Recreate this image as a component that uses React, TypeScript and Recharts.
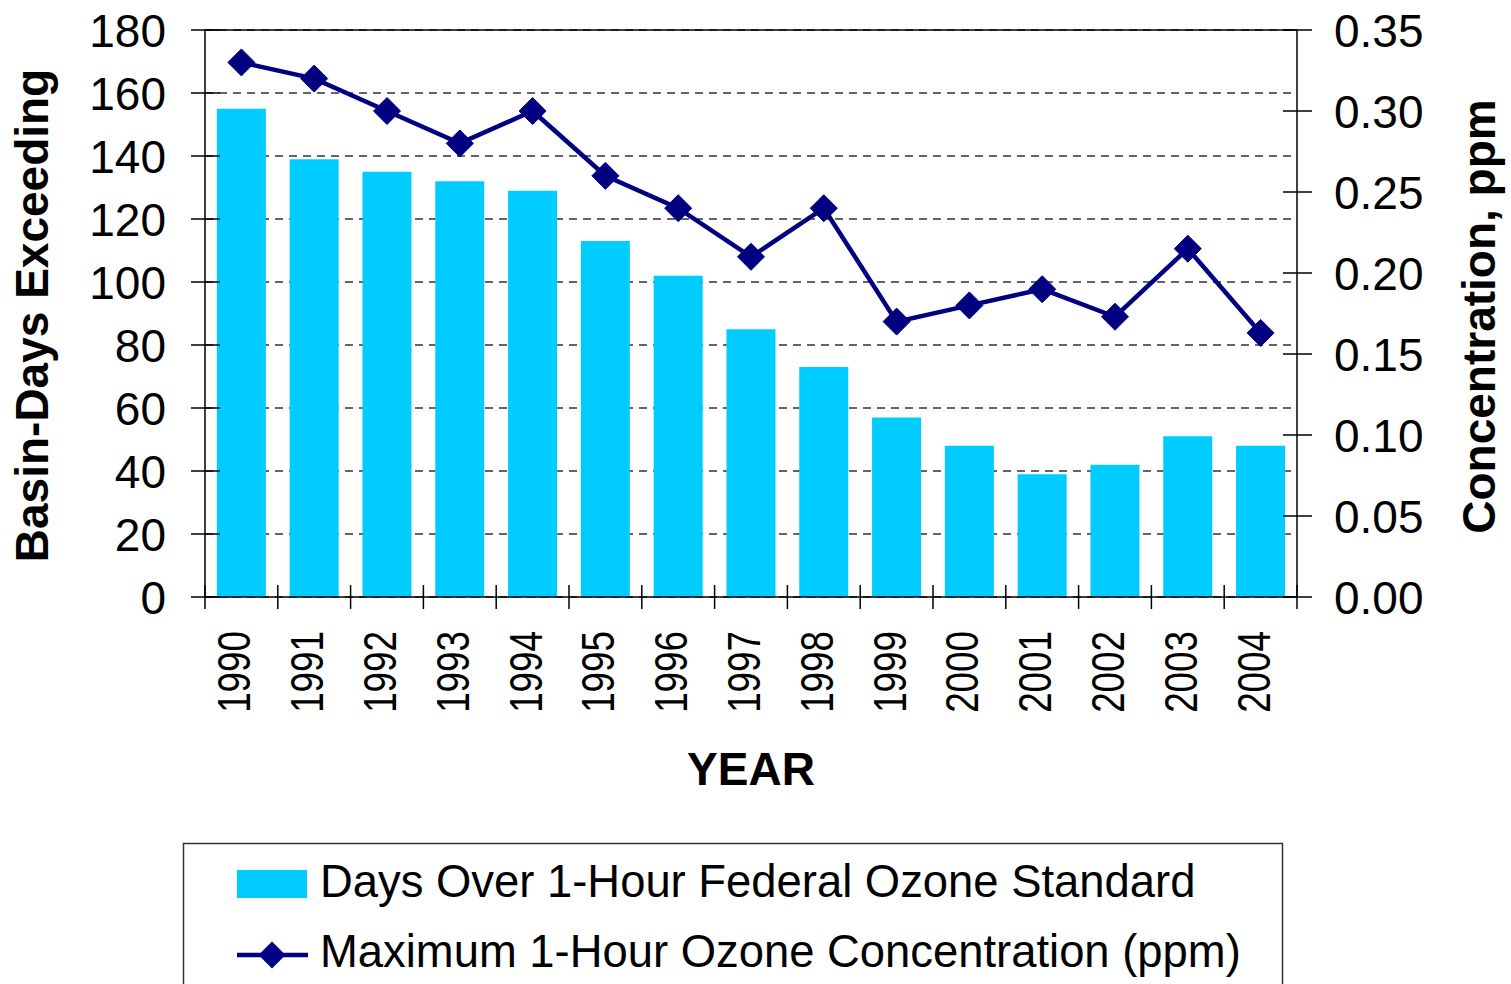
import React from "react";
import {
  ComposedChart,
  Bar,
  Line,
  XAxis,
  YAxis,
  CartesianGrid,
  ReferenceLine,
  Label,
} from "recharts";

const years = ["1990","1991","1992","1993","1994","1995","1996","1997","1998","1999","2000","2001","2002","2003","2004"];
const daysOver = [155, 139, 135, 132, 129, 113, 102, 85, 73, 57, 48, 39, 42, 51, 48];
const maxConc = [0.33, 0.32, 0.30, 0.28, 0.30, 0.26, 0.24, 0.21, 0.24, 0.17, 0.18, 0.19, 0.173, 0.215, 0.163];
const leftTicks = [0, 20, 40, 60, 80, 100, 120, 140, 160, 180];
const rightTicks = [0, 0.05, 0.1, 0.15, 0.2, 0.25, 0.3, 0.35];

const barName = "Days Over 1-Hour Federal Ozone Standard";
const lineName = "Maximum 1-Hour Ozone Concentration (ppm)";

const data = years.map((y, i) => ({ year: y, days: daysOver[i], conc: maxConc[i] }));

const FONT = "'Liberation Sans', Arial, sans-serif";
const BAR = "#00CCFF";
const NAVY = "#000080";

const LeftTick = (props: any) => {
  const { x, y, payload } = props;
  return (
    <g>
      <line x1={x - 14} x2={x + 15} y1={y} y2={y} stroke="#000" strokeWidth={1.5} />
      <text x={x - 39} y={y} dy="0.36em" textAnchor="end" fontSize={46} fontFamily={FONT} fill="#000">
        {payload.value}
      </text>
    </g>
  );
};

const RightTick = (props: any) => {
  const { x, y, payload } = props;
  return (
    <g>
      <line x1={x - 14} x2={x + 15} y1={y} y2={y} stroke="#000" strokeWidth={1.5} />
      <text x={x + 37} y={y} dy="0.36em" textAnchor="start" fontSize={46} fontFamily={FONT} fill="#000">
        {Number(payload.value).toFixed(2)}
      </text>
    </g>
  );
};

const YearTick = (props: any) => {
  const { x, y, payload, index, width, visibleTicksCount } = props;
  const band = width / visibleTicksCount;
  const isLast = index === visibleTicksCount - 1;
  return (
    <g>
      <line x1={x - band / 2} x2={x - band / 2} y1={y - 12} y2={y + 12} stroke="#000" strokeWidth={1.5} />
      {isLast && (
        <line x1={x + band / 2} x2={x + band / 2} y1={y - 12} y2={y + 12} stroke="#000" strokeWidth={1.5} />
      )}
      <text
        transform={`translate(${x + 9}, ${y + 34}) rotate(-90) scale(0.8, 1)`}
        textAnchor="end"
        fontSize={46}
        fontFamily={FONT}
        fill="#000"
      >
        {payload.value}
      </text>
    </g>
  );
};

const Diamond = (props: any) => {
  const { cx, cy } = props;
  if (cx == null || cy == null) return null;
  const r = 13.5;
  return (
    <polygon
      points={`${cx},${cy - r} ${cx + r},${cy} ${cx},${cy + r} ${cx - r},${cy}`}
      fill={NAVY}
      stroke={NAVY}
    />
  );
};

export default function App() {
  return (
    <div style={{ position: "absolute", left: 0, top: 0, width: 1511, height: 984, overflow: "hidden", background: "#fff" }}>
      <ComposedChart
        width={1511}
        height={984}
        data={data}
        margin={{ top: 30, right: 0, bottom: 0, left: 0 }}
        barCategoryGap="16.3%"
      >
        <CartesianGrid
          xAxisId="cat"
          yAxisId="left"
          vertical={false}
          stroke="#333"
          strokeWidth={1.5}
          strokeDasharray="8 6"
        />
        <XAxis
          xAxisId="cat"
          dataKey="year"
          height={387}
          tickSize={0}
          tickMargin={0}
          tickLine={false}
          axisLine={{ stroke: "#000", strokeWidth: 1.5 }}
          tick={<YearTick />}
          interval={0}
        >
          <Label
            content={(p: any) => {
              const vb = p.viewBox;
              return (
                <text x={vb.x + vb.width / 2} y={vb.y + 188} textAnchor="middle" fontSize={46} fontWeight="bold" fontFamily={FONT} fill="#000">
                  YEAR
                </text>
              );
            }}
          />
        </XAxis>
        <YAxis
          yAxisId="left"
          orientation="left"
          width={205}
          domain={[0, 180]}
          ticks={leftTicks}
          interval={0}
          tickSize={0}
          tickMargin={0}
          tickLine={false}
          axisLine={{ stroke: "#000", strokeWidth: 1.5 }}
          tick={<LeftTick />}
        >
          <Label
            content={(p: any) => {
              const vb = p.viewBox;
              return (
                <text
                  transform={`translate(48, ${vb.y + vb.height / 2 + 2}) rotate(-90)`}
                  textAnchor="middle"
                  fontSize={46}
                  fontWeight="bold"
                  fontFamily={FONT}
                  fill="#000"
                >
                  Basin-Days Exceeding
                </text>
              );
            }}
          />
        </YAxis>
        <YAxis
          yAxisId="right"
          orientation="right"
          width={214}
          domain={[0, 0.35]}
          ticks={rightTicks}
          interval={0}
          tickSize={0}
          tickMargin={0}
          tickLine={false}
          axisLine={{ stroke: "#000", strokeWidth: 1.5 }}
          tick={<RightTick />}
        >
          <Label
            content={(p: any) => {
              const vb = p.viewBox;
              return (
                <text
                  transform={`translate(${vb.x + 198}, ${vb.y + vb.height / 2 + 3}) rotate(-90)`}
                  textAnchor="middle"
                  fontSize={46}
                  fontWeight="bold"
                  fontFamily={FONT}
                  fill="#000"
                >
                  Concentration, ppm
                </text>
              );
            }}
          />
        </YAxis>
        <ReferenceLine yAxisId="left" xAxisId="cat" y={180} stroke="#000" strokeWidth={1.5} />
        <Bar
          xAxisId="cat"
          yAxisId="left"
          dataKey="days"
          name={barName}
          fill={BAR}
          isAnimationActive={false}
        />
        <Line
          xAxisId="cat"
          yAxisId="right"
          dataKey="conc"
          name={lineName}
          stroke={NAVY}
          strokeWidth={4.5}
          dot={<Diamond />}
          activeDot={false}
          isAnimationActive={false}
        />
      </ComposedChart>
      <svg
        width={1511}
        height={984}
        style={{ position: "absolute", left: 0, top: 0, pointerEvents: "none" }}
      >
        <rect x={183.5} y={843.5} width={1099} height={200} fill="none" stroke="#333" strokeWidth={1.5} />
        <rect x={237} y={870} width={70} height={28} fill={BAR} />
        <text x={320} y={897} fontSize={45.4} fontFamily={FONT} fill="#000">{barName}</text>
        <line x1={237} x2={308} y1={955} y2={955} stroke={NAVY} strokeWidth={4.5} />
        <polygon points="272,941.5 285.5,955 272,968.5 258.5,955" fill={NAVY} />
        <text x={320} y={967} fontSize={45.4} fontFamily={FONT} fill="#000">{lineName}</text>
      </svg>
    </div>
  );
}
